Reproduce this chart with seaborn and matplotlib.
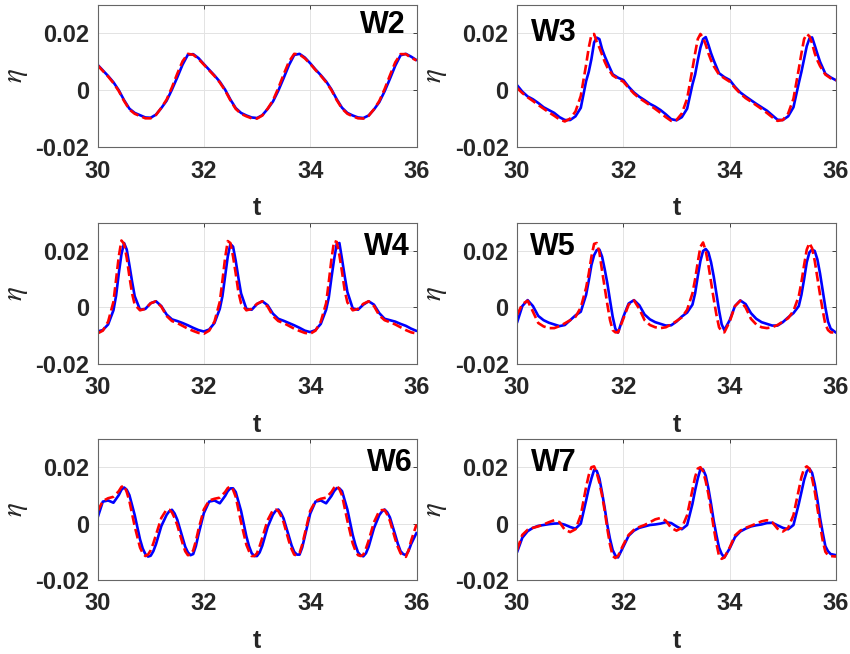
import numpy as np
import pandas as pd
import matplotlib
matplotlib.use('Agg')
import matplotlib.pyplot as plt
import seaborn as sns

sns.set_theme(style='white')
plt.rcParams['font.family'] = ['Liberation Sans', 'DejaVu Sans']
plt.rcParams['mathtext.fontset'] = 'stix'

# main time grid (s)
t = np.round(np.linspace(30, 36, 61), 1)

w2_blue = [0.0090, 0.0070, 0.0050, 0.0028, 0.0000, -0.0035, -0.0065, -0.0080, -0.0088, -0.0096,
           -0.0097, -0.0086, -0.0063, -0.0037, 0.0002, 0.0045, 0.0090, 0.0125, 0.0127, 0.0113,
           0.0092, 0.0072, 0.0052, 0.0030, 0.0002, -0.0033, -0.0063, -0.0080, -0.0089, -0.0096,
           -0.0098, -0.0088, -0.0066, -0.0040, -0.0002, 0.0042, 0.0088, 0.0124, 0.0128, 0.0115,
           0.0095, 0.0073, 0.0053, 0.0031, 0.0003, -0.0032, -0.0062, -0.0080, -0.0089, -0.0096,
           -0.0098, -0.0089, -0.0068, -0.0042, -0.0004, 0.0040, 0.0086, 0.0123, 0.0128, 0.0118,
           0.0106]
w2_red = [0.0088, 0.0068, 0.0048, 0.0025, -0.0003, -0.0038, -0.0068, -0.0083, -0.0091, -0.0099,
          -0.0099, -0.0087, -0.0062, -0.0033, 0.0010, 0.0058, 0.0102, 0.0128, 0.0125, 0.0110,
          0.0090, 0.0070, 0.0050, 0.0027, -0.0001, -0.0036, -0.0066, -0.0083, -0.0092, -0.0099,
          -0.0100, -0.0089, -0.0065, -0.0036, 0.0007, 0.0055, 0.0100, 0.0128, 0.0126, 0.0112,
          0.0093, 0.0071, 0.0051, 0.0028, 0.0000, -0.0035, -0.0065, -0.0083, -0.0092, -0.0099,
          -0.0100, -0.0090, -0.0067, -0.0038, 0.0004, 0.0052, 0.0098, 0.0127, 0.0127, 0.0114,
          0.0105]
w2_extra_t = []
w2_extra_blue = []
w2_extra_red = []

w3_blue = [0.0018, -0.0005, -0.0022, -0.0032, -0.0045, -0.0060, -0.0070, -0.0080, -0.0095, -0.0105,
           -0.0105, -0.0092, -0.0062, 0.0032, 0.0110, 0.0185, 0.0145, 0.0098, 0.0056, 0.0044,
           0.0036, 0.0012, -0.0008, -0.0023, -0.0035, -0.0048, -0.0058, -0.0070, -0.0085, -0.0102,
           -0.0106, -0.0095, -0.0065, 0.0020, 0.0105, 0.0180, 0.0160, 0.0105, 0.0060, 0.0046,
           0.0036, 0.0012, -0.0008, -0.0022, -0.0035, -0.0048, -0.0060, -0.0072, -0.0088, -0.0104,
           -0.0105, -0.0092, -0.0060, 0.0025, 0.0110, 0.0182, 0.0158, 0.0100, 0.0058, 0.0045,
           0.0035]
w3_red = [0.0008, -0.0010, -0.0025, -0.0038, -0.0052, -0.0065, -0.0078, -0.0090, -0.0103, -0.0110,
          -0.0100, -0.0075, -0.0020, 0.0090, 0.0195, 0.0170, 0.0125, 0.0080, 0.0052, 0.0040,
          0.0030, 0.0008, -0.0012, -0.0028, -0.0040, -0.0053, -0.0066, -0.0080, -0.0095, -0.0108,
          -0.0105, -0.0082, -0.0030, 0.0075, 0.0180, 0.0185, 0.0130, 0.0085, 0.0055, 0.0042,
          0.0030, 0.0008, -0.0012, -0.0028, -0.0040, -0.0053, -0.0066, -0.0080, -0.0095, -0.0108,
          -0.0105, -0.0082, -0.0030, 0.0075, 0.0180, 0.0190, 0.0130, 0.0085, 0.0055, 0.0042,
          0.0035]
w3_extra_t = [31.35, 31.45, 31.55, 31.65, 33.35, 33.45, 33.55, 33.65, 35.35, 35.45, 35.55, 35.65]
w3_extra_blue = [0.0065, 0.0168, 0.0180, 0.0120, 0.0055, 0.0150, 0.0187, 0.0130,
                 0.0065, 0.0155, 0.0186, 0.0128]
w3_extra_red = [0.0150, 0.0198, 0.0150, 0.0100, 0.0130, 0.0198, 0.0160, 0.0105,
                0.0130, 0.0198, 0.0165, 0.0105]

w4_blue = [-0.0085, -0.0080, -0.0060, -0.0010, 0.0120, 0.0228, 0.0150, 0.0040, -0.0008, -0.0005,
           0.0015, 0.0022, 0.0005, -0.0025, -0.0042, -0.0048, -0.0055, -0.0063, -0.0072, -0.0080,
           -0.0085, -0.0078, -0.0055, -0.0005, 0.0110, 0.0225, 0.0165, 0.0050, -0.0005, -0.0008,
           0.0012, 0.0022, 0.0008, -0.0022, -0.0040, -0.0047, -0.0055, -0.0063, -0.0072, -0.0082,
           -0.0087, -0.0080, -0.0058, -0.0008, 0.0105, 0.0225, 0.0170, 0.0055, -0.0003, -0.0008,
           0.0010, 0.0022, 0.0010, -0.0020, -0.0040, -0.0045, -0.0050, -0.0058, -0.0065, -0.0075,
           -0.0083]
w4_red = [-0.0092, -0.0082, -0.0050, 0.0020, 0.0180, 0.0225, 0.0110, 0.0010, -0.0010, -0.0005,
          0.0015, 0.0022, 0.0003, -0.0030, -0.0048, -0.0055, -0.0065, -0.0075, -0.0083, -0.0090,
          -0.0093, -0.0082, -0.0050, 0.0020, 0.0175, 0.0228, 0.0120, 0.0015, -0.0010, -0.0005,
          0.0013, 0.0022, 0.0003, -0.0030, -0.0048, -0.0055, -0.0065, -0.0075, -0.0083, -0.0090,
          -0.0093, -0.0082, -0.0050, 0.0015, 0.0170, 0.0232, 0.0125, 0.0018, -0.0010, -0.0005,
          0.0013, 0.0022, 0.0005, -0.0028, -0.0045, -0.0052, -0.0060, -0.0070, -0.0080, -0.0088,
          -0.0092]
w4_extra_t = [30.35, 30.45, 30.55, 30.65, 32.35, 32.45, 32.55, 32.65, 34.35, 34.45, 34.55, 34.65]
w4_extra_blue = [0.0042, 0.0188, 0.0205, 0.0092, 0.0040, 0.0180, 0.0215, 0.0105,
                 0.0035, 0.0170, 0.0228, 0.0110]
w4_extra_red = [0.0100, 0.0237, 0.0175, 0.0050, 0.0095, 0.0235, 0.0180, 0.0055,
                0.0090, 0.0235, 0.0185, 0.0060]

w5_blue = [-0.0054, 0.0005, 0.0026, 0.0005, -0.0030, -0.0045, -0.0054, -0.0060, -0.0066, -0.0062,
           -0.0045, -0.0028, -0.0015, 0.0045, 0.0150, 0.0203, 0.0180, 0.0085, -0.0033, -0.0089,
           -0.0033, 0.0014, 0.0026, 0.0008, -0.0025, -0.0042, -0.0052, -0.0058, -0.0064, -0.0063,
           -0.0050, -0.0032, -0.0018, 0.0010, 0.0110, 0.0200, 0.0195, 0.0110, -0.0010, -0.0080,
           -0.0045, 0.0005, 0.0025, 0.0012, -0.0020, -0.0040, -0.0052, -0.0058, -0.0064, -0.0064,
           -0.0052, -0.0035, -0.0020, 0.0005, 0.0100, 0.0195, 0.0200, 0.0120, 0.0000, -0.0075,
           -0.0089]
w5_red = [-0.0027, 0.0012, 0.0024, -0.0015, -0.0055, -0.0067, -0.0073, -0.0073, -0.0066, -0.0056,
          -0.0045, -0.0033, 0.0000, 0.0070, 0.0180, 0.0228, 0.0130, 0.0010, -0.0080, -0.0088,
          -0.0040, 0.0010, 0.0025, -0.0005, -0.0045, -0.0062, -0.0070, -0.0073, -0.0070, -0.0060,
          -0.0048, -0.0035, -0.0008, 0.0050, 0.0160, 0.0230, 0.0150, 0.0030, -0.0070, -0.0088,
          -0.0050, 0.0005, 0.0024, 0.0000, -0.0040, -0.0060, -0.0070, -0.0073, -0.0070, -0.0062,
          -0.0050, -0.0038, -0.0012, 0.0040, 0.0150, 0.0228, 0.0165, 0.0045, -0.0060, -0.0088,
          -0.0089]
w5_extra_t = [31.35, 31.45, 31.55, 31.65, 31.75, 31.85,
              33.35, 33.45, 33.55, 33.65, 33.75, 33.85,
              35.35, 35.45, 35.55, 35.65, 35.75, 35.85]
w5_extra_blue = [0.0095, 0.0185, 0.0205, 0.0135, 0.0025, -0.0075,
                 0.0050, 0.0165, 0.0207, 0.0160, 0.0050, -0.0060,
                 0.0045, 0.0160, 0.0205, 0.0170, 0.0060, -0.0050]
w5_extra_red = [0.0120, 0.0225, 0.0195, 0.0070, -0.0045, -0.0088,
                0.0100, 0.0215, 0.0200, 0.0090, -0.0025, -0.0085,
                0.0090, 0.0205, 0.0210, 0.0105, -0.0010, -0.0080]

w6_blue = [0.0020, 0.0078, 0.0082, 0.0074, 0.0101, 0.0128, 0.0101, 0.0030, -0.0056, -0.0108,
           -0.0114, -0.0073, -0.0009, 0.0031, 0.0049, 0.0014, -0.0050, -0.0102, -0.0108, -0.0038,
           0.0037, 0.0078, 0.0082, 0.0072, 0.0098, 0.0125, 0.0112, 0.0045, -0.0045, -0.0105,
           -0.0115, -0.0078, -0.0012, 0.0032, 0.0050, 0.0018, -0.0045, -0.0100, -0.0110, -0.0045,
           0.0035, 0.0078, 0.0082, 0.0072, 0.0098, 0.0126, 0.0115, 0.0050, -0.0040, -0.0102,
           -0.0116, -0.0082, -0.0016, 0.0030, 0.0050, 0.0022, -0.0040, -0.0098, -0.0112, -0.0072,
           -0.0033]
w6_red = [0.0043, 0.0080, 0.0090, 0.0095, 0.0115, 0.0135, 0.0080, -0.0010, -0.0085, -0.0115,
          -0.0095, -0.0040, 0.0020, 0.0050, 0.0040, -0.0005, -0.0070, -0.0112, -0.0095, -0.0020,
          0.0050, 0.0082, 0.0088, 0.0092, 0.0112, 0.0132, 0.0095, 0.0005, -0.0075, -0.0115,
          -0.0105, -0.0050, 0.0012, 0.0048, 0.0045, 0.0005, -0.0062, -0.0110, -0.0105, -0.0035,
          0.0045, 0.0080, 0.0088, 0.0092, 0.0112, 0.0135, 0.0100, 0.0010, -0.0070, -0.0112,
          -0.0110, -0.0060, 0.0005, 0.0045, 0.0048, 0.0010, -0.0055, -0.0105, -0.0118, -0.0060,
          -0.0003]
w6_extra_t = [30.45, 30.55, 30.85, 30.95, 31.05, 31.35, 31.45, 31.65, 31.75, 31.85,
              32.45, 32.55, 32.85, 32.95, 33.05, 33.35, 33.45, 33.65, 33.75, 33.85,
              34.45, 34.55, 34.85, 34.95, 35.05, 35.35, 35.45, 35.65, 35.75, 35.85]
w6_extra_blue = [0.0120, 0.0120, -0.0088, -0.0117, -0.0098, 0.0044, 0.0036, -0.0082, -0.0112, -0.0080,
                 0.0115, 0.0125, -0.0080, -0.0115, -0.0102, 0.0045, 0.0038, -0.0077, -0.0110, -0.0085,
                 0.0115, 0.0125, -0.0075, -0.0113, -0.0105, 0.0043, 0.0040, -0.0072, -0.0108, -0.0097]
w6_extra_red = [0.0130, 0.0112, -0.0105, -0.0110, -0.0070, 0.0049, 0.0020, -0.0098, -0.0110, -0.0062,
                0.0126, 0.0120, -0.0098, -0.0115, -0.0080, 0.0050, 0.0028, -0.0090, -0.0113, -0.0075,
                0.0127, 0.0122, -0.0095, -0.0115, -0.0088, 0.0048, 0.0032, -0.0083, -0.0115, -0.0095]

w7_blue = [-0.0102, -0.0050, -0.0027, -0.0015, -0.0008, -0.0005, -0.0002, 0.0000, 0.0001, -0.0004,
           -0.0012, -0.0018, 0.0000, 0.0082, 0.0160, 0.0187, 0.0110, -0.0006, -0.0094, -0.0120,
           -0.0082, -0.0043, -0.0025, -0.0015, -0.0010, -0.0005, -0.0003, 0.0000, 0.0005, 0.0002,
           -0.0010, -0.0020, -0.0005, 0.0070, 0.0160, 0.0192, 0.0125, 0.0010, -0.0085, -0.0120,
           -0.0088, -0.0048, -0.0028, -0.0018, -0.0010, -0.0006, -0.0003, 0.0002, 0.0003, -0.0006,
           -0.0015, -0.0020, -0.0005, 0.0070, 0.0155, 0.0195, 0.0140, 0.0020, -0.0080, -0.0108,
           -0.0112]
w7_red = [-0.0094, -0.0040, -0.0022, -0.0015, -0.0010, -0.0003, 0.0005, 0.0012, 0.0005, -0.0022,
          -0.0030, -0.0020, 0.0030, 0.0130, 0.0200, 0.0180, 0.0100, -0.0020, -0.0115, -0.0115,
          -0.0075, -0.0040, -0.0022, -0.0012, -0.0005, 0.0005, 0.0015, 0.0020, 0.0010, -0.0015,
          -0.0025, -0.0015, 0.0030, 0.0120, 0.0195, 0.0185, 0.0105, -0.0015, -0.0115, -0.0120,
          -0.0085, -0.0042, -0.0025, -0.0015, -0.0008, 0.0000, 0.0008, 0.0012, 0.0005, -0.0018,
          -0.0028, -0.0015, 0.0030, 0.0120, 0.0195, 0.0195, 0.0115, -0.0005, -0.0100, -0.0115,
          -0.0117]
w7_extra_t = [31.35, 31.45, 31.55, 31.65, 31.75, 31.85,
              33.35, 33.45, 33.55, 33.65, 33.75, 33.85,
              35.35, 35.45, 35.55, 35.65, 35.75, 35.85]
w7_extra_blue = [0.0125, 0.0190, 0.0160, 0.0055, -0.0055, -0.0113,
                 0.0118, 0.0193, 0.0170, 0.0070, -0.0040, -0.0108,
                 0.0112, 0.0185, 0.0180, 0.0085, -0.0032, -0.0098]
w7_extra_red = [0.0172, 0.0203, 0.0145, 0.0045, -0.0075, -0.0122,
                0.0165, 0.0200, 0.0150, 0.0045, -0.0070, -0.0125,
                0.0165, 0.0203, 0.0160, 0.0055, -0.0060, -0.0112]

panel_names = ['W2', 'W3', 'W4', 'W5', 'W6', 'W7']
blue_series = [w2_blue, w3_blue, w4_blue, w5_blue, w6_blue, w7_blue]
red_series = [w2_red, w3_red, w4_red, w5_red, w6_red, w7_red]
extra_ts = [w2_extra_t, w3_extra_t, w4_extra_t, w5_extra_t, w6_extra_t, w7_extra_t]
extra_blues = [w2_extra_blue, w3_extra_blue, w4_extra_blue, w5_extra_blue, w6_extra_blue, w7_extra_blue]
extra_reds = [w2_extra_red, w3_extra_red, w4_extra_red, w5_extra_red, w6_extra_red, w7_extra_red]
x_ticks = [30, 32, 34, 36]
y_ticks = [-0.02, 0, 0.02]
y_tick_labels = ['-0.02', '0', '0.02']

W, H = 850, 654
col_x = [97.5, 517]
row_y = [(5, 147), (222.7, 364), (439, 580)]
ax_w = 319
label_pos = [(0.965, 0.86, 'right'), (0.045, 0.80, 'left'),
             (0.98, 0.83, 'right'), (0.04, 0.83, 'left'),
             (0.987, 0.83, 'right'), (0.044, 0.83, 'left')]

fig = plt.figure(figsize=(8.5, 6.54), dpi=100)
ink = '#262626'
for i, name in enumerate(panel_names):
    r, c = divmod(i, 2)
    top, bot = row_y[r]
    ax = fig.add_axes([col_x[c] / W, 1 - bot / H, ax_w / W, (bot - top) / H])
    df = pd.DataFrame({'t': np.concatenate([t, extra_ts[i]]),
                       'blue': np.concatenate([blue_series[i], extra_blues[i]]),
                       'red': np.concatenate([red_series[i], extra_reds[i]])}).sort_values('t')
    sns.lineplot(data=df, x='t', y='blue', ax=ax, color='#0000FF', linewidth=1.9, sort=True)
    sns.lineplot(data=df, x='t', y='red', ax=ax, color='#FF0000', linewidth=1.9,
                 linestyle='--', sort=True)
    ax.set_xlim(30, 36)
    ax.set_ylim(-0.02, 0.03)
    ax.set_xticks(x_ticks)
    ax.set_xticklabels([str(v) for v in x_ticks], fontweight='bold', fontsize=17, color=ink)
    ax.set_yticks(y_ticks)
    ax.set_yticklabels(y_tick_labels, fontweight='bold', fontsize=17, color=ink)
    ax.tick_params(axis='x', pad=9)
    ax.tick_params(axis='y', pad=6)
    ax.tick_params(direction='in', length=3, width=0.6, top=True, right=True, color=ink)
    ax.grid(True, color='#e3e3e3', linewidth=0.7)
    for s in ax.spines.values():
        s.set_color('#666666')
        s.set_linewidth(0.8)
    ax.set_xlabel('t', fontweight='bold', fontsize=18, color=ink, labelpad=10)
    ax.set_ylabel(r'$\eta$', fontsize=21, color=ink, labelpad=4)
    lx, ly, ha = label_pos[i]
    ax.text(lx, ly, name, transform=ax.transAxes, ha=ha, va='center',
            fontsize=22, fontweight='bold', color='black')

fig.savefig('out.png', dpi=100)
